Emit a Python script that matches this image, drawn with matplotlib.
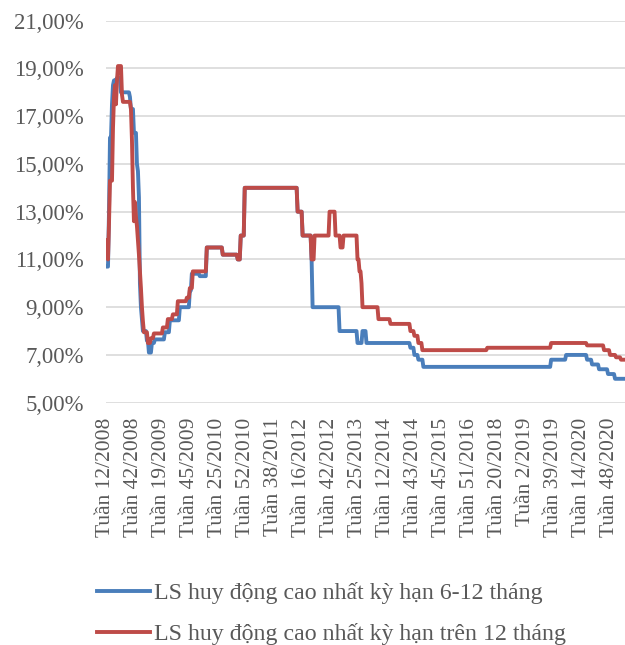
import numpy as np
import matplotlib.pyplot as plt

plt.rcParams['font.family'] = ['Liberation Serif', 'DejaVu Serif']

# weekly series stored as (level, number of weeks) runs
blue_levels = [10.7, 13.0, 16.1, 17.5, 18.3, 18.5, 18.6, 18.0, 17.8, 17.3, 16.3, 15.0,
               14.7, 13.6, 10.0, 9.0, 8.5, 8.0, 7.6, 7.1, 7.5, 7.65, 7.95, 8.45, 9.0,
               9.7, 10.4, 10.3, 11.5, 11.2, 11.0, 12.0, 14.0, 13.0, 12.0, 11.0, 9.0,
               8.0, 7.5, 8.0, 7.5, 7.3, 7.0, 6.8, 6.5, 6.8, 7.0, 6.8, 6.6, 6.4, 6.2, 6.0]
blue_counts = [3, 1, 2, 1, 1, 3, 4, 9, 1, 3, 3, 1,
               1, 1, 1, 1, 1, 4, 2, 3, 3, 10, 5, 10, 10,
               2, 8, 7, 16, 15, 3, 4, 53, 5, 9, 1, 27,
               18, 5, 4, 44, 4, 4, 5, 128, 15, 21, 5, 7, 9, 7, 10]

red_levels = [11.8, 11.0, 12.5, 14.3, 16.5, 17.8, 18.3, 17.5, 18.5, 19.1, 17.9, 17.6,
              17.3, 16.0, 14.0, 12.6, 13.4, 12.8, 12.4, 11.8, 11.2, 10.5, 9.8, 9.0,
              8.4, 7.95, 7.5, 7.7, 7.9, 8.15, 8.5, 8.7, 9.25, 9.4, 9.8, 10.5, 11.5,
              11.2, 11.0, 12.0, 14.0, 13.0, 12.0, 11.0, 12.0, 13.0, 12.0, 11.5, 12.0,
              11.0, 10.5, 10.0, 9.0, 8.5, 8.3, 8.0, 7.8, 7.5, 7.2, 7.3, 7.5, 7.4,
              7.2, 7.0, 6.9, 6.8]
red_counts = [2, 1, 1, 3, 1, 1, 1, 1, 1, 4, 1, 8,
              1, 1, 1, 1, 1, 1, 1, 1, 1, 1, 1, 1,
              1, 4, 3, 3, 9, 5, 5, 5, 9, 3, 3, 14, 16,
              15, 3, 4, 53, 5, 9, 3, 15, 6, 5, 3, 14,
              2, 2, 1, 16, 12, 20, 4, 4, 4, 65, 64, 36, 17,
              6, 6, 5, 4]

week_labels = ['Tuần 12/2008', 'Tuần 42/2008', 'Tuần 19/2009', 'Tuần 45/2009',
               'Tuần 25/2010', 'Tuần 52/2010', 'Tuần 38/2011', 'Tuần 16/2012',
               'Tuần 42/2012', 'Tuần 25/2013', 'Tuần 12/2014', 'Tuần 43/2014',
               'Tuần 45/2015', 'Tuần 51/2016', 'Tuần 20/2018', 'Tuần 2/2019',
               'Tuần 39/2019', 'Tuần 14/2020', 'Tuần 48/2020']
label_step = 28

series_names = ['LS huy động cao nhất kỳ hạn 6-12 tháng',
                'LS huy động cao nhất kỳ hạn trên 12 tháng']

blue = np.repeat(blue_levels, blue_counts)
red = np.repeat(red_levels, red_counts)

fig = plt.figure(figsize=(6.25, 6.45), dpi=100)
ax = fig.add_axes([0.1696, 0.3757, 0.8304, 0.5922])

ax.plot(np.arange(len(blue)), blue, color='#4a7ebb', lw=2.8, label=series_names[0],
        solid_joinstyle='round')
ax.plot(np.arange(len(red)), red, color='#be4b48', lw=2.8, label=series_names[1],
        solid_joinstyle='round')

ax.set_xlim(0, 520)
ax.set_ylim(5, 21)
ax.set_yticks(np.arange(5, 22, 2))
ax.set_yticklabels(['%d,00%%' % v for v in range(5, 22, 2)])
ax.set_xticks(np.arange(len(week_labels)) * label_step)
# labels read upward, all ending just under the axis
ax.set_xticklabels(week_labels, rotation=90, rotation_mode='anchor',
                   ha='right', va='center')

ax.grid(axis='y', color='#d9d9d9', lw=1.2)
ax.set_axisbelow(True)
for s in ax.spines.values():
    s.set_visible(False)
ax.tick_params(axis='y', length=0, pad=16, labelsize=16.4, labelcolor='#595959')
ax.tick_params(axis='x', length=0, pad=11, labelsize=15.5, labelcolor='#595959')

leg = fig.legend(loc='upper left', bbox_to_anchor=(0.14, 0.112), frameon=False,
                 fontsize=17.2, handlelength=2.2, handletextpad=0.2,
                 labelspacing=0.8, borderaxespad=0)
for t in leg.get_texts():
    t.set_color('#595959')

fig.savefig('out.png', dpi=100)
